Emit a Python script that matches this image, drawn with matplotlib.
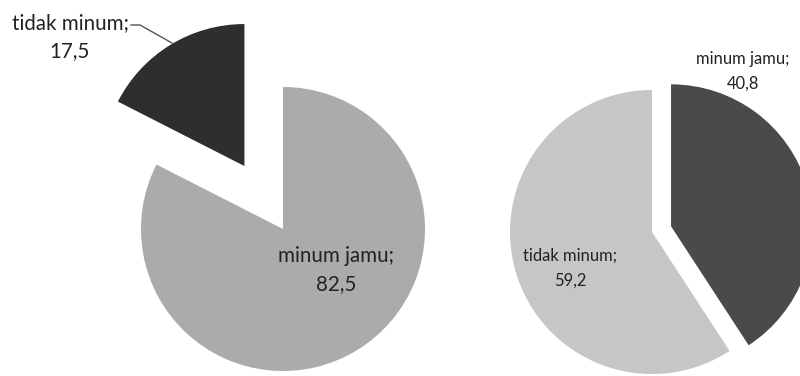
import matplotlib
matplotlib.use("Agg")
import matplotlib.pyplot as plt

plt.rcParams['font.family'] = ['Lato', 'DejaVu Sans']

# left pie: jamu consumption group 1
left_labels = ['minum jamu', 'tidak minum']
left_values = [82.5, 17.5]
left_colors = ['#ababab', '#2e2e2e']

# right pie: group 2
right_labels = ['minum jamu', 'tidak minum']
right_values = [40.8, 59.2]
right_colors = ['#4a4a4a', '#c6c6c6']

fig = plt.figure(figsize=(8, 3.76), dpi=100)
ax = fig.add_axes([0, 0, 1, 1])

R = 142
# explode is in data units here since the axes are in pixels
ax.pie(left_values, colors=left_colors, startangle=90, counterclock=False,
       explode=[0, 0.52 * R], center=(283, 147), radius=R, frame=True,
       wedgeprops={'linewidth': 0})
ax.pie(right_values, colors=right_colors, startangle=90, counterclock=False,
       explode=[0.14 * R, 0], center=(652, 144), radius=R, frame=True,
       wedgeprops={'linewidth': 0})
ax.set_xlim(0, 800)
ax.set_ylim(0, 376)
ax.set_aspect('equal')
ax.axis('off')

def fmt(v):
    return f"{v:.1f}".replace('.', ',')

big = 14.8
small = 11.9
ax.text(70, 339, f"{left_labels[1]};\n{fmt(left_values[1])}", ha='center', va='center',
        fontsize=big, color='#222222', linespacing=1.5)
ax.plot([131, 140, 172], [351, 351, 333], color='#555555', lw=1)
ax.text(336, 106, f"{left_labels[0]};\n{fmt(left_values[0])}", ha='center', va='center',
        fontsize=big, color='#222222', linespacing=1.5)
ax.text(743, 305, f"{right_labels[0]};\n{fmt(right_values[0])}", ha='center', va='center',
        fontsize=small, color='#222222', linespacing=1.65)
ax.text(570, 108, f"{right_labels[1]};\n{fmt(right_values[1])}", ha='center', va='center',
        fontsize=small, color='#222222', linespacing=1.65)

fig.savefig('out.png', dpi=100)
